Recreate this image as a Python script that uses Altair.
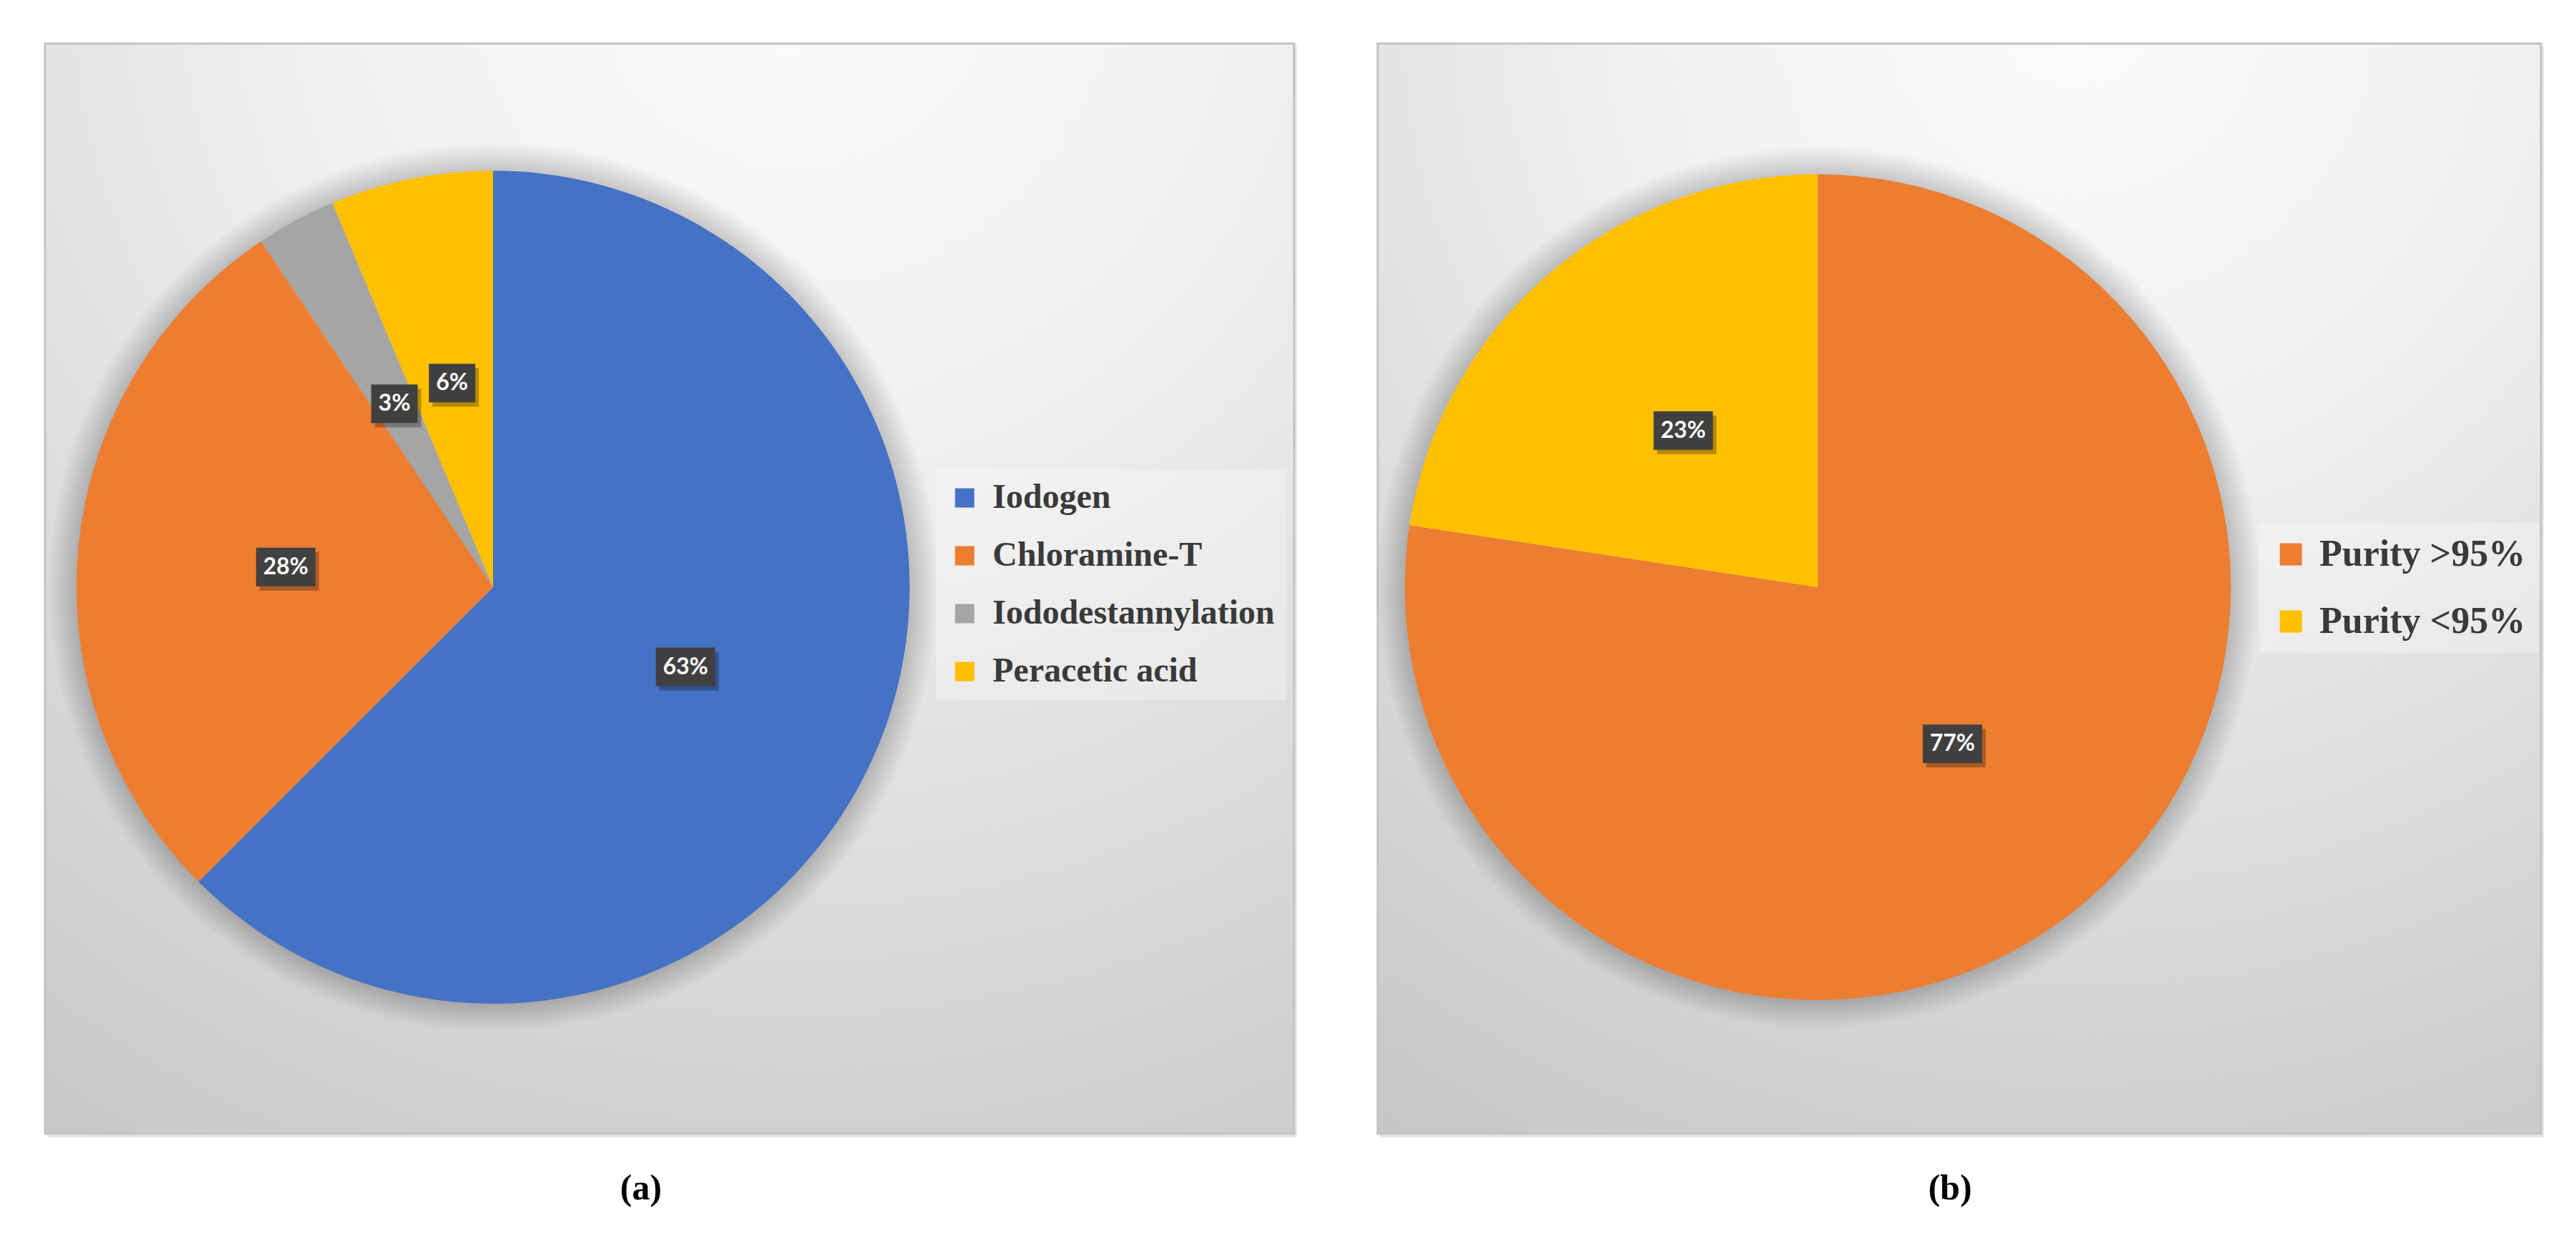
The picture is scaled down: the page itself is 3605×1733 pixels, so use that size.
import math
import altair as alt
import pandas as pd

# ---------------- data ----------------
methods = ["Iodogen", "Chloramine-T", "Iododestannylation", "Peracetic acid"]
method_share = [62.5, 28.1, 3.1, 6.3]
method_labels = ["63%", "28%", "3%", "6%"]
method_colors = ["#4472C4", "#ED7D31", "#A5A5A5", "#FFC000"]

purity = ["Purity >95%", "Purity <95%"]
purity_share = [77.4, 22.6]
purity_labels = ["77%", "23%"]
purity_colors = ["#ED7D31", "#FFC000"]

captions = ["(a)", "(b)"]

# ---------------- layout (page pixels) ----------------
M = 8
W, H = 3589, 1717


def X(v):
    return v - M


def Y(v):
    return v - M


PANEL_A = (63, 61, 1811, 1587)
PANEL_B = (1928, 61, 3556, 1587)
PIE_A = (690, 822, 583)
PIE_B = (2544, 822, 578)
LBL_R = 0.5

one = alt.Data(values=[{"k": 1}])

grad = {
    "gradient": "radial",
    "x1": 0.6, "y1": 0.0, "r1": 0.0,
    "x2": 0.6, "y2": 0.0, "r2": 1.25,
    "stops": [
        {"offset": 0.0, "color": "#fbfbfb"},
        {"offset": 0.3, "color": "#f1f1f1"},
        {"offset": 0.55, "color": "#dfdfdf"},
        {"offset": 0.8, "color": "#cdcdcd"},
        {"offset": 1.0, "color": "#c1c1c1"},
    ],
}


def panel(box):
    x0, y0, x1, y1 = box
    sh = alt.Chart(one).mark_rect(fill="#e6e6e6").encode(
        x=alt.value(X(x0) + 3), x2=alt.value(X(x1) + 4),
        y=alt.value(Y(y0) + 3), y2=alt.value(Y(y1) + 5))
    bg = alt.Chart(one).mark_rect(fill=grad, stroke="#c3c3c3", strokeWidth=3).encode(
        x=alt.value(X(x0)), x2=alt.value(X(x1)),
        y=alt.value(Y(y0)), y2=alt.value(Y(y1)))
    return [sh, bg]


def pie_shadow(pie):
    cx, cy, r = pie
    out = []
    for k in range(1, 16):
        out.append(alt.Chart(one).mark_arc(
            theta=0, theta2=2 * math.pi, radius=r + 2.6 * k,
            fill="black", opacity=0.013, stroke=None).encode(
            x=alt.value(X(cx)), y=alt.value(Y(cy))))
    return out


def pie(df, cat, cats, colors, p, legend):
    cx, cy, r = p
    return alt.Chart(df).mark_arc(radius=r, stroke=None).encode(
        theta=alt.Theta("share:Q", stack=True),
        order=alt.Order("order:Q"),
        color=alt.Color(f"{cat}:N", scale=alt.Scale(domain=cats, range=colors), legend=legend),
        x=alt.value(X(cx)), y=alt.value(Y(cy)),
    )


def labels(df, p):
    cx, cy, r = p
    rr = r * LBL_R
    base = alt.Chart(df).transform_joinaggregate(
        total="sum(share)"
    ).transform_window(
        cum="sum(share)", sort=[alt.SortField("order")], frame=[None, 0]
    ).transform_calculate(
        ang="(datum.cum - datum.share/2)/datum.total*2*PI"
    ).transform_calculate(
        lx=f"{X(cx)} + {rr}*sin(datum.ang)",
        ly=f"{Y(cy)} - {rr}*cos(datum.ang)",
        w="18*length(datum.label)+29",
    ).transform_calculate(
        bx1="datum.lx - datum.w/2", bx2="datum.lx + datum.w/2",
        by1="datum.ly - 27", by2="datum.ly + 27",
        sx1="datum.lx - datum.w/2 + 5", sx2="datum.lx + datum.w/2 + 5",
        sy1="datum.ly - 27 + 6", sy2="datum.ly + 27 + 6",
    )
    shadow = base.mark_rect(fill="black", opacity=0.28).encode(
        x=alt.X("sx1:Q", scale=None), x2="sx2:Q",
        y=alt.Y("sy1:Q", scale=None), y2="sy2:Q")
    box = base.mark_rect(fill="#404040").encode(
        x=alt.X("bx1:Q", scale=None), x2="bx2:Q",
        y=alt.Y("by1:Q", scale=None), y2="by2:Q")
    txt = base.mark_text(font="Lato", fontSize=32, fontWeight="bold", color="white",
                         align="center", baseline="middle").encode(
        x=alt.X("lx:Q", scale=None), y=alt.Y("ly:Q", scale=None), text="label:N")
    return [shadow, box, txt]


df_a = pd.DataFrame({"method": methods, "share": method_share,
                     "label": method_labels, "order": list(range(len(methods)))})
df_b = pd.DataFrame({"purity": purity, "share": purity_share,
                     "label": purity_labels, "order": list(range(len(purity)))})

legend_a = alt.Legend(
    title=None, orient="none", legendX=X(1310), legendY=Y(657),
    symbolType="square", symbolSize=729, symbolStrokeWidth=0, symbolOpacity=1,
    labelFont="Liberation Serif", labelFontSize=48, labelFontWeight="bold",
    labelColor="#3a3a3a", labelOffset=15, labelLimit=0, rowPadding=33,
    padding=16, fillColor="rgba(255,255,255,0.28)")
legend_b = alt.Legend(
    title=None, orient="none", legendX=X(3162), legendY=Y(732),
    symbolType="square", symbolSize=961, symbolStrokeWidth=0, symbolOpacity=1,
    labelFont="Liberation Serif", labelFontSize=52, labelFontWeight="bold",
    labelColor="#3a3a3a", labelOffset=14, labelLimit=0, rowPadding=42,
    padding=18, fillColor="rgba(255,255,255,0.28)")

cap_layers = []
for text, cx in zip(captions, [897, 2729]):
    cap_layers.append(alt.Chart(one).mark_text(
        text=text, font="Liberation Serif", fontSize=50, fontWeight="bold",
        color="black", align="center", baseline="middle").encode(
        x=alt.value(X(cx)), y=alt.value(Y(1664))))

layers = []
layers += panel(PANEL_A) + panel(PANEL_B)
layers += pie_shadow(PIE_A) + pie_shadow(PIE_B)
layers.append(pie(df_a, "method", methods, method_colors, PIE_A, legend_a))
layers.append(pie(df_b, "purity", purity, purity_colors, PIE_B, legend_b))
layers += labels(df_a, PIE_A) + labels(df_b, PIE_B)
layers += cap_layers

chart = alt.layer(*layers).resolve_scale(
    color="independent", theta="independent"
).properties(
    width=W, height=H, padding=0,
    autosize=alt.AutoSizeParams(type="none"),
).configure_view(stroke=None)

chart.save("out.html", embed_options={"renderer": "svg", "actions": False})
